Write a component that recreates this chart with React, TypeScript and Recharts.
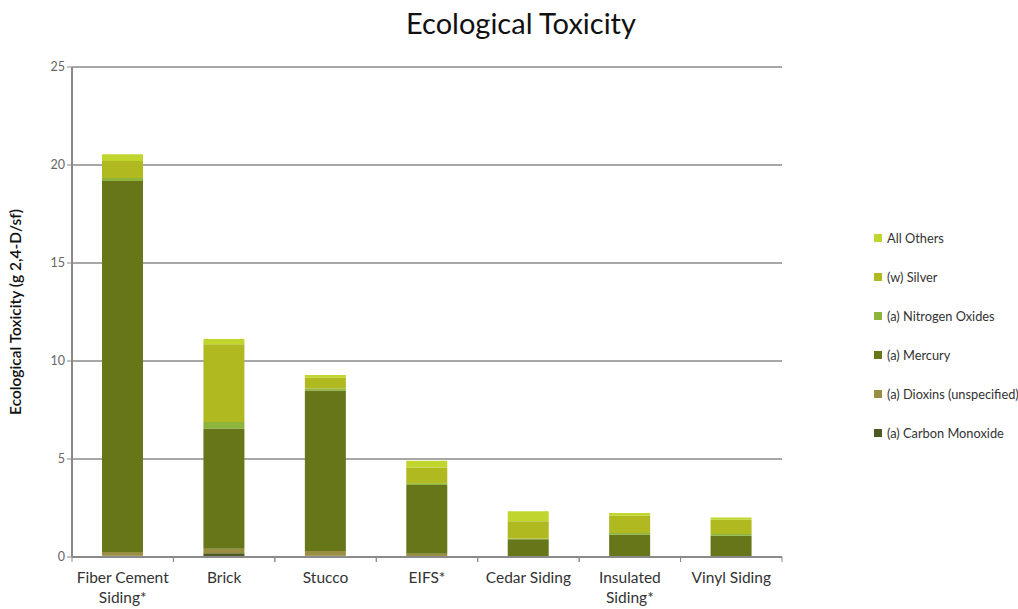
import { Bar, BarChart, CartesianGrid, XAxis, YAxis } from "recharts";

const categories = [
    "Fiber Cement Siding*",
    "Brick",
    "Stucco",
    "EIFS*",
    "Cedar Siding",
    "Insulated Siding*",
    "Vinyl Siding",
];

const carbonMonoxide = [0.07, 0.19, 0.07, 0.03, 0.01, 0.01, 0.01];
const dioxins = [0.18, 0.23, 0.23, 0.14, 0.02, 0.02, 0.02];
const mercury = [18.94, 6.13, 8.19, 3.5, 0.87, 1.11, 1.06];
const nitrogenOxides = [0.15, 0.34, 0.11, 0.09, 0.05, 0.08, 0.08];
const silver = [0.87, 3.96, 0.55, 0.81, 0.87, 0.88, 0.73];
const allOthers = [0.34, 0.27, 0.14, 0.34, 0.51, 0.14, 0.12];

const yTicks = [0, 5, 10, 15, 20, 25];

const series = [
    { key: "co", name: "(a) Carbon Monoxide", values: carbonMonoxide, color: "#4b5a1f" },
    { key: "dioxins", name: "(a) Dioxins (unspecified)", values: dioxins, color: "#9a8e42" },
    { key: "mercury", name: "(a) Mercury", values: mercury, color: "#677619" },
    { key: "nox", name: "(a) Nitrogen Oxides", values: nitrogenOxides, color: "#8db43b" },
    { key: "silver", name: "(w) Silver", values: silver, color: "#b1b920" },
    { key: "others", name: "All Others", values: allOthers, color: "#c0d62e" },
];

const data = categories.map((name, i) => {
    const row: Record<string, string | number> = { name };
    series.forEach((s) => {
        row[s.key] = s.values[i];
    });
    return row;
});

const FONT = "Lato, 'Open Sans', sans-serif";
const PLOT_LEFT = 72;
const PLOT_RIGHT = 782;

function CategoryTick(props: any) {
    const { x, y, payload } = props;
    const band = (PLOT_RIGHT - PLOT_LEFT) / categories.length;
    const label: string = payload.value;
    let lines = [label];
    if (label.length > 12) {
        const cut = label.lastIndexOf(" ");
        lines = [label.slice(0, cut), label.slice(cut + 1)];
    }
    return (
        <g>
            <line x1={x - band / 2} x2={x - band / 2} y1={y - 8} y2={y - 3} stroke="#8a8a8a" strokeWidth={1} />
            <line x1={x + band / 2} x2={x + band / 2} y1={y - 8} y2={y - 3} stroke="#8a8a8a" strokeWidth={1} />
            <text x={x} y={y + 18} textAnchor="middle" fontSize={15.5} fill="#333" fontFamily={FONT}>
                {lines.map((line, i) => (
                    <tspan key={i} x={x} dy={i === 0 ? 0 : 20}>
                        {line}
                    </tspan>
                ))}
            </text>
        </g>
    );
}

export default function App() {
    return (
        <div style={{ position: "absolute", left: 0, top: 0, width: 1018, height: 609, background: "#fff", fontFamily: FONT }}>
            <div style={{ position: "absolute", left: 0, width: 1042, top: 5, textAlign: "center", fontSize: 29, color: "#111" }}>
                Ecological Toxicity
            </div>

            <BarChart
                width={1018}
                height={609}
                data={data}
                margin={{ top: 67, right: 1018 - PLOT_RIGHT, bottom: 22, left: 0 }}
            >
                <CartesianGrid vertical={false} stroke="#8a8a8a" strokeWidth={1.5} />
                <XAxis
                    dataKey="name"
                    height={30}
                    tickLine={false}
                    axisLine={{ stroke: "#8a8a8a", strokeWidth: 2 }}
                    tick={<CategoryTick />}
                    interval={0}
                />
                <YAxis
                    width={PLOT_LEFT}
                    domain={[0, 25]}
                    ticks={yTicks}
                    tickSize={5}
                    tickLine={{ stroke: "#8a8a8a" }}
                    axisLine={{ stroke: "#8a8a8a", strokeWidth: 2 }}
                    tick={{ fill: "#666", fontSize: 12.5, fontFamily: FONT }}
                    label={{
                        value: "Ecological  Toxicity (g 2,4-D/sf)",
                        angle: -90,
                        position: "insideLeft",
                        dx: 10,
                        fill: "#111",
                        fontSize: 15.5,
                        fontWeight: 600,
                        fontFamily: FONT,
                        style: { textAnchor: "middle" },
                    }}
                />
                {series.map((s) => (
                    <Bar
                        key={s.key}
                        dataKey={s.key}
                        name={s.name}
                        stackId="a"
                        fill={s.color}
                        barSize={41}
                        isAnimationActive={false}
                    />
                ))}
            </BarChart>

            <div style={{ position: "absolute", left: 874, top: 229 }}>
                {[...series].reverse().map((s) => (
                    <div key={s.key} style={{ display: "flex", alignItems: "center", height: 39 }}>
                        <span style={{ width: 8, height: 8, background: s.color, marginRight: 5, marginTop: -22 }} />
                        <span style={{ fontSize: 12.8, color: "#333", marginTop: -22, whiteSpace: "nowrap" }}>{s.name}</span>
                    </div>
                ))}
            </div>
        </div>
    );
}
